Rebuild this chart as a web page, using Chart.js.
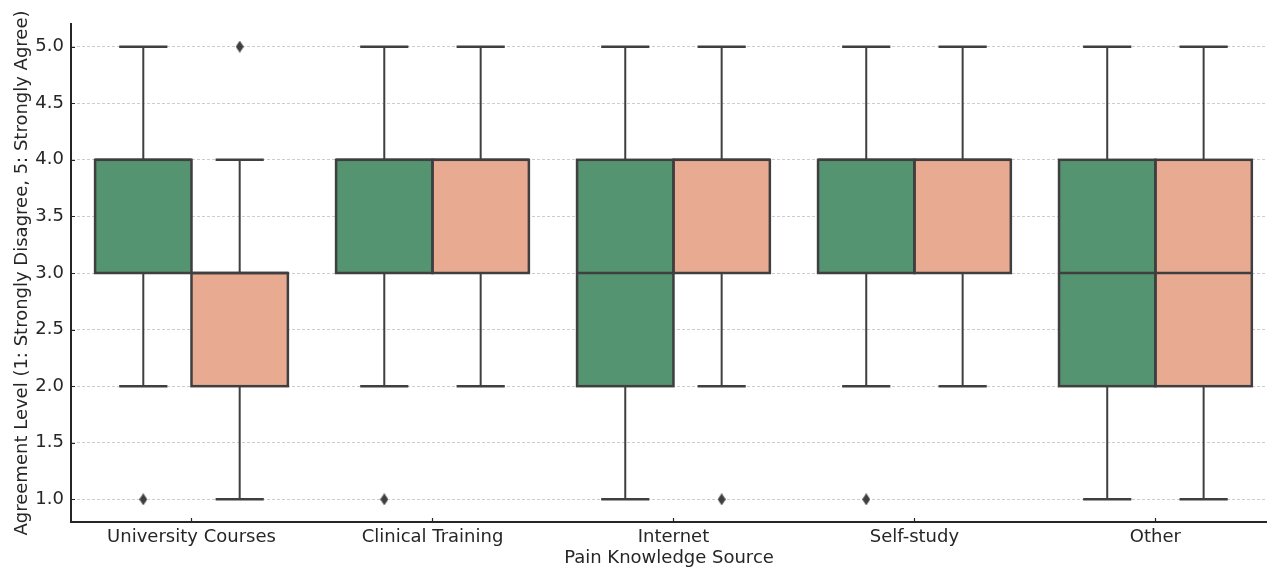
<!DOCTYPE html>
<html>
<head>
<meta charset="utf-8">
<script src="https://cdn.jsdelivr.net/npm/chart.js@4.4.1/dist/chart.umd.min.js"></script>
<style>
  html, body { margin: 0; padding: 0; background: #ffffff; overflow: hidden; }
  #wrap { width: 1272px; height: 568px; }
</style>
</head>
<body>
<div id="wrap"><canvas id="chart" width="1272" height="568"></canvas></div>
<script>
// Categories along the x axis
const categories = ['University Courses', 'Clinical Training', 'Internet', 'Self-study', 'Other'];
const yTickValues = [1.0, 1.5, 2.0, 2.5, 3.0, 3.5, 4.0, 4.5, 5.0];

// First group (green): box summaries per category
const greenLow     = [2, 2, 1, 2, 1];
const greenQ1      = [3, 3, 2, 3, 2];
const greenMedian  = [4, 4, 3, 4, 3];
const greenQ3      = [4, 4, 4, 4, 4];
const greenHigh    = [5, 5, 5, 5, 5];
const greenOutliers = [[1], [1], [], [1], []];

// Second group (salmon): box summaries per category
const salmonLow     = [1, 2, 2, 2, 1];
const salmonQ1      = [2, 3, 3, 3, 2];
const salmonMedian  = [3, 4, 4, 4, 3];
const salmonQ3      = [3, 4, 4, 4, 4];
const salmonHigh    = [4, 5, 5, 5, 5];
const salmonOutliers = [[5], [], [1], [], []];

const GREEN = '#559470';
const SALMON = '#e8aa91';
const LINE = '#3f3f3f';
const TEXT = '#262626';
const FONT = { family: 'DejaVu Sans', size: 18 };

// thin diamond marker for outliers
function diamondMarker() {
  const c = document.createElement('canvas');
  c.width = 8; c.height = 12;
  const g = c.getContext('2d');
  g.fillStyle = LINE;
  g.beginPath();
  g.moveTo(4, 0); g.lineTo(8, 6); g.lineTo(4, 12); g.lineTo(0, 6);
  g.closePath(); g.fill();
  return c;
}
const marker = diamondMarker();

const groups = [
  { low: greenLow, q1: greenQ1, med: greenMedian, q3: greenQ3, high: greenHigh, out: greenOutliers, color: GREEN, shift: -0.2 },
  { low: salmonLow, q1: salmonQ1, med: salmonMedian, q3: salmonQ3, high: salmonHigh, out: salmonOutliers, color: SALMON, shift: 0.2 }
];

// box bodies (interquartile range) as floating bars
const boxDatasets = groups.map((g, k) => ({
  type: 'bar',
  label: k === 0 ? 'Group 1' : 'Group 2',
  data: categories.map((_, i) => ({ x: i, y: [g.q1[i], g.q3[i]] })),
  backgroundColor: g.color,
  borderWidth: 0,
  categoryPercentage: 0.8,
  barPercentage: 1.0,
  order: 2
}));

const outlierDatasets = groups.map((g, k) => ({
  type: 'scatter',
  label: 'outliers ' + (k + 1),
  data: g.out.flatMap((vals, i) => vals.map(v => ({ x: i + g.shift, y: v }))),
  pointStyle: marker,
  pointRadius: 4,
  order: 1
}));

// box outlines, whiskers, caps and median lines, placed on the bar elements
const boxParts = {
  id: 'boxParts',
  afterDatasetsDraw(chart) {
    const ctx = chart.ctx;
    const y = chart.scales.y;
    ctx.save();
    ctx.strokeStyle = LINE;
    ctx.lineCap = 'butt';
    ctx.lineJoin = 'miter';
    groups.forEach((g, k) => {
      const meta = chart.getDatasetMeta(k);
      meta.data.forEach((bar, i) => {
        const { x, width } = bar.getProps(['x', 'width'], true);
        const half = width / 2;
        const yLow = y.getPixelForValue(g.low[i]);
        const yHigh = y.getPixelForValue(g.high[i]);
        const yQ1 = y.getPixelForValue(g.q1[i]);
        const yQ3 = y.getPixelForValue(g.q3[i]);
        const yMed = y.getPixelForValue(g.med[i]);
        // whiskers
        ctx.lineWidth = 2;
        ctx.beginPath();
        if (yLow > yQ1) { ctx.moveTo(x, yQ1); ctx.lineTo(x, yLow); }
        if (yHigh < yQ3) { ctx.moveTo(x, yQ3); ctx.lineTo(x, yHigh); }
        ctx.stroke();
        // caps and median
        ctx.lineWidth = 2.5;
        ctx.beginPath();
        ctx.moveTo(x - half / 2, yLow); ctx.lineTo(x + half / 2, yLow);
        ctx.moveTo(x - half / 2, yHigh); ctx.lineTo(x + half / 2, yHigh);
        ctx.moveTo(x - half, yMed); ctx.lineTo(x + half, yMed);
        ctx.stroke();
        // box outline, centred on the box edges
        ctx.strokeRect(x - half, yQ3, width, yQ1 - yQ3);
      });
    });
    ctx.restore();
  }
};

// short inward tick marks on both axes
const innerTicks = {
  id: 'innerTicks',
  afterDraw(chart) {
    const { ctx, chartArea: a, scales: { x, y } } = chart;
    ctx.save();
    ctx.strokeStyle = TEXT;
    ctx.lineWidth = 1.2;
    ctx.beginPath();
    yTickValues.forEach(v => {
      const py = Math.round(y.getPixelForValue(v)) + 0.5;
      ctx.moveTo(a.left, py); ctx.lineTo(a.left + 4, py);
    });
    categories.forEach((_, i) => {
      const px = Math.round(x.getPixelForValue(i)) + 0.5;
      ctx.moveTo(px, a.bottom); ctx.lineTo(px, a.bottom - 4);
    });
    ctx.stroke();
    ctx.restore();
  }
};

new Chart(document.getElementById('chart'), {
  type: 'bar',
  data: { datasets: [...boxDatasets, ...outlierDatasets] },
  options: {
    responsive: false,
    animation: false,
    devicePixelRatio: 1,
    layout: { padding: { top: 24, right: 0, bottom: 0, left: 0 } },
    plugins: { legend: { display: false }, tooltip: { enabled: false } },
    scales: {
      x: {
        type: 'linear',
        min: -0.5,
        max: 4.463,
        offset: false,
        afterBuildTicks: s => { s.ticks = categories.map((_, i) => ({ value: i })); },
        afterFit: s => { s.height = 46; },
        ticks: {
          autoSkip: false,
          maxRotation: 0,
          padding: 5,
          color: TEXT,
          font: FONT,
          callback: v => categories[v]
        },
        grid: { display: false, drawTicks: false },
        border: { display: true, color: TEXT, width: 2 },
        title: {
          display: true,
          text: 'Pain Knowledge Source',
          color: TEXT,
          font: FONT,
          padding: { top: 0, bottom: -1 }
        }
      },
      y: {
        min: 0.8,
        max: 5.2,
        afterBuildTicks: s => { s.ticks = yTickValues.map(v => ({ value: v })); },
        afterFit: s => { s.width = 71; },
        ticks: {
          padding: 7,
          color: TEXT,
          font: FONT,
          callback: v => Number(v).toFixed(1)
        },
        grid: { color: '#cccccc', lineWidth: 1, drawTicks: false },
        border: { display: true, color: TEXT, width: 2, dash: [3, 2] },
        title: {
          display: true,
          text: 'Agreement Level (1: Strongly Disagree, 5: Strongly Agree)',
          color: TEXT,
          font: FONT,
          padding: { top: 12, bottom: 0 }
        }
      }
    }
  },
  plugins: [boxParts, innerTicks]
});
</script>
</body>
</html>
